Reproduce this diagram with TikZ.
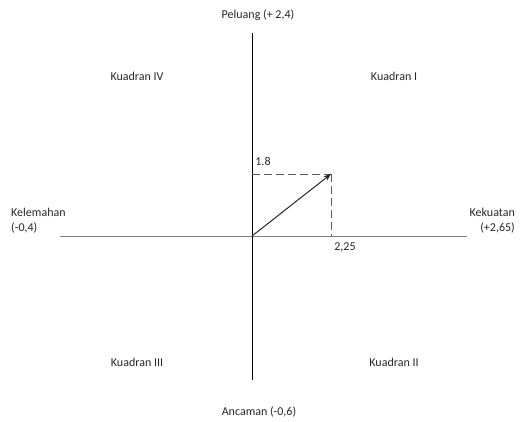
\documentclass[tikz,border=0pt]{standalone}
\usepackage{fontspec}
\setmainfont{Carlito}
\usetikzlibrary{arrows.meta}
\definecolor{axisgray}{HTML}{7F7F7F}
\definecolor{dashgray}{HTML}{595959}
\definecolor{textgray}{HTML}{262626}
\tikzset{
  every picture/.style={font=\fontsize{12}{15}\selectfont, line join=round, >=Stealth},
  lbl/.style={text=textgray, inner sep=0pt},
  axis/.style={line width=1pt},
  guide/.style={dash pattern=on 8pt off 4pt, line width=1pt, dashgray},
}

\begin{document}
\begin{tikzpicture}[x=1pt,y=-1pt]
\useasboundingbox (0,0) rectangle (521,421);
% axes
\coordinate (top) at (252,33);
\coordinate (bot) at (252,380);
\coordinate (lft) at (60,236);
\coordinate (rgt) at (467,236);
\coordinate (o) at (252,236);
\draw[axis,axisgray] (lft) -- (rgt);
\draw[axis,black] (top) -- (bot);
% axis labels
\node[lbl] (peluang) at (258,15) {Peluang (+ 2,4)};
\node[lbl] (ancaman) at (259,412) {Ancaman (-0,6)};
\node[lbl,anchor=west,align=left] (kelemahan) at (11,221) {Kelemahan\\(-0,4)};
\node[lbl,anchor=east,align=right] (kekuatan) at (515,221) {Kekuatan\\(+2,65)};
% quadrants
\node[lbl] (q4) at (137,76) {Kuadran IV};
\node[lbl] (q1) at (394,76) {Kuadran I};
\node[lbl] (q3) at (137,362) {Kuadran III};
\node[lbl] (q2) at (394,362) {Kuadran II};
% result point
\coordinate (p) at (331,174);
\coordinate (py) at (252,174);
\coordinate (px) at (331,236);
\draw[guide] (py) -- (p);
\draw[guide] (p) -- (px);
\draw[->,line width=1pt,textgray] (o) -- (p);
\node[lbl] (vy) at (263,161) {1.8};
\node[lbl] (vx) at (345,247) {2,25};
\end{tikzpicture}
\end{document}
